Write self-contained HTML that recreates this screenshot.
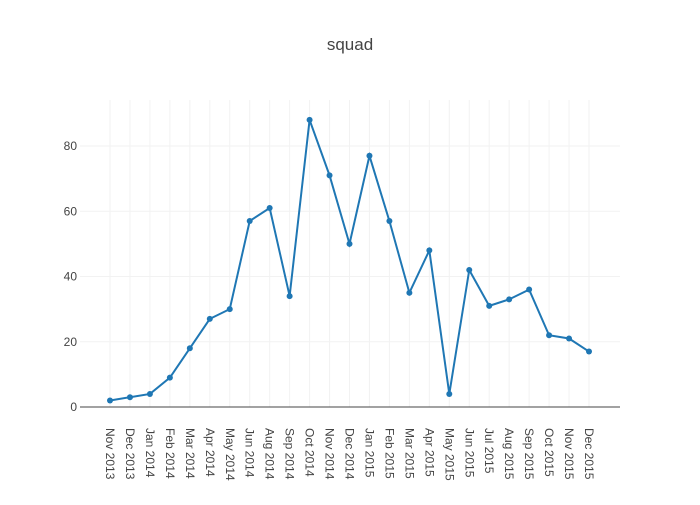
<!DOCTYPE html>
<html><head><meta charset="utf-8"><style>
body{margin:0;background:#fff;font-family:"Liberation Sans",sans-serif;}
svg text{font-family:"Liberation Sans",sans-serif;fill:#444;}
</style></head><body>
<svg id="chart" width="700" height="500">
<text x="350" y="50" text-anchor="middle" font-size="17">squad</text>
<g id="grid"></g><g id="axes"></g><g id="series"></g>
</svg>
<script>
const values=[2,3,4,9,18,27,30,57,61,34,88,71,50,77,57,35,48,4,42,31,33,36,22,21,17];
const xLabels=["Nov 2013","Dec 2013","Jan 2014","Feb 2014","Mar 2014","Apr 2014","May 2014","Jun 2014","Aug 2014","Sep 2014","Oct 2014","Nov 2014","Dec 2014","Jan 2015","Feb 2015","Mar 2015","Apr 2015","May 2015","Jun 2015","Jul 2015","Aug 2015","Sep 2015","Oct 2015","Nov 2015","Dec 2015"];
const yTicks=[0,20,40,60,80];
const NS="http://www.w3.org/2000/svg";
const L=80,R=620,T=100,B=407;
const x0=110,dx=(589-110)/(values.length-1);
const xs=i=>x0+i*dx;
const ys=v=>B-v*(261/80);
function mk(tag,attrs,parent){const e=document.createElementNS(NS,tag);for(const k in attrs)e.setAttribute(k,attrs[k]);parent.appendChild(e);return e;}
const grid=document.getElementById('grid'),axes=document.getElementById('axes'),ser=document.getElementById('series');
xLabels.forEach((lab,i)=>{
 const x=xs(i);
 const g=mk('line',{x1:x,x2:x,y1:T,y2:B,stroke:'#f2f2f2','stroke-width':1},grid);
 
 
 const t=mk('text',{transform:`translate(${x-4},428) rotate(90)`,'font-size':12},axes);
 t.textContent=lab;
 
 
});
yTicks.forEach(v=>{
 const y=ys(v);
 if(v>0){const g=mk('line',{x1:L,x2:R,y1:y,y2:y,stroke:'#f2f2f2','stroke-width':1},grid);
 
 }
 const t=mk('text',{x:L-3,y:y+4,'text-anchor':'end','font-size':12},axes);
 t.textContent=v;
 
 
});
const zl=mk('line',{x1:L,x2:R,y1:B,y2:B,stroke:'#444','stroke-width':1},axes);


const pl=mk('polyline',{points:values.map((v,i)=>xs(i)+','+ys(v)).join(' '),fill:'none',stroke:'#1f77b4','stroke-width':2},ser);


values.forEach((v,i)=>{
 const c=mk('circle',{cx:xs(i),cy:ys(v),r:3,fill:'#1f77b4'},ser);
 
 
});
</script>
</body></html>
